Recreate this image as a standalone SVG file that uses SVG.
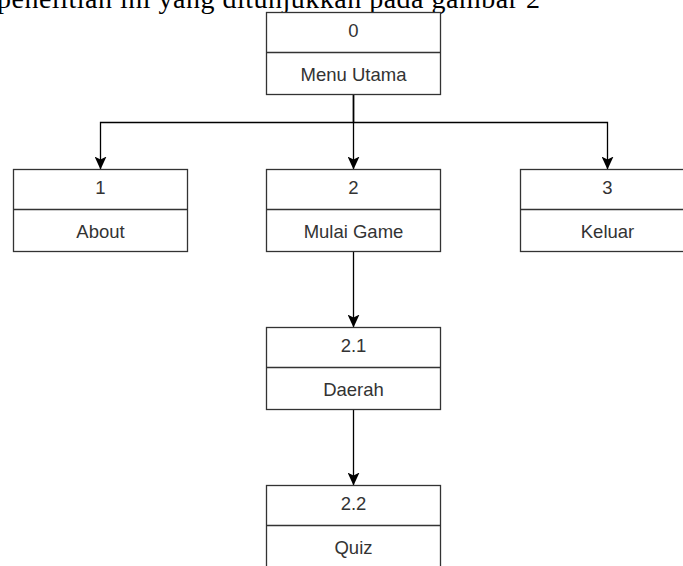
<svg xmlns="http://www.w3.org/2000/svg" width="683" height="566" viewBox="0 0 683 566">
<style>
.bg{fill:#fff}
.box{fill:#fff;stroke:#333;stroke-width:1.3}
.div{stroke:#333;stroke-width:1.3}
.lbl{font-family:"Liberation Sans",Arial,sans-serif;font-size:18.5px;fill:#333;text-anchor:middle}
.para{font-family:"Liberation Serif","Times New Roman",serif;font-size:28px;fill:#000}
.edge{fill:none;stroke:#000;stroke-width:1.3}
</style>
<defs>
<marker id="arr" markerUnits="userSpaceOnUse" markerWidth="13" markerHeight="12" viewBox="0 0 13 12" refX="13" refY="6" orient="auto">
<path d="M0,0 L13,6 L0,12 L3,6 Z" fill="#000"/>
</marker>
</defs>
<rect class="bg" x="0" y="0" width="683" height="566"/>
<text class="para" x="-3" y="7.5" textLength="543" lengthAdjust="spacing">penelitian ini yang ditunjukkan pada gambar 2</text>
<g id="connectors">
<path class="edge" d="M353.5 94.5 V122.5 H100.5 V169.5" marker-end="url(#arr)"/>
<path class="edge" d="M353.5 94.5 V169.5" marker-end="url(#arr)"/>
<path class="edge" d="M353.5 94.5 V122.5 H607.5 V169.5" marker-end="url(#arr)"/>
<path class="edge" d="M353.5 251.5 V327.5" marker-end="url(#arr)"/>
<path class="edge" d="M353.5 409.5 V485.5" marker-end="url(#arr)"/>
</g>
<g id="node-0">
<rect class="box" x="266.5" y="12.5" width="174" height="82"/>
<line class="div" x1="266.5" y1="52.5" x2="440.5" y2="52.5"/>
<text class="lbl" x="353.5" y="37">0</text>
<text class="lbl" x="353.5" y="80.5">Menu Utama</text>
</g>
<g id="node-1">
<rect class="box" x="13.5" y="169.5" width="174" height="82"/>
<line class="div" x1="13.5" y1="209.5" x2="187.5" y2="209.5"/>
<text class="lbl" x="100.5" y="194">1</text>
<text class="lbl" x="100.5" y="237.5">About</text>
</g>
<g id="node-2">
<rect class="box" x="266.5" y="169.5" width="174" height="82"/>
<line class="div" x1="266.5" y1="209.5" x2="440.5" y2="209.5"/>
<text class="lbl" x="353.5" y="194">2</text>
<text class="lbl" x="353.5" y="237.5">Mulai Game</text>
</g>
<g id="node-3">
<rect class="box" x="520.5" y="169.5" width="174" height="82"/>
<line class="div" x1="520.5" y1="209.5" x2="694.5" y2="209.5"/>
<text class="lbl" x="607.5" y="194">3</text>
<text class="lbl" x="607.5" y="237.5">Keluar</text>
</g>
<g id="node-2-1">
<rect class="box" x="266.5" y="327.5" width="174" height="82"/>
<line class="div" x1="266.5" y1="367.5" x2="440.5" y2="367.5"/>
<text class="lbl" x="353.5" y="352">2.1</text>
<text class="lbl" x="353.5" y="395.5">Daerah</text>
</g>
<g id="node-2-2">
<rect class="box" x="266.5" y="485.5" width="174" height="82"/>
<line class="div" x1="266.5" y1="525.5" x2="440.5" y2="525.5"/>
<text class="lbl" x="353.5" y="510">2.2</text>
<text class="lbl" x="353.5" y="553.5">Quiz</text>
</g>
</svg>
